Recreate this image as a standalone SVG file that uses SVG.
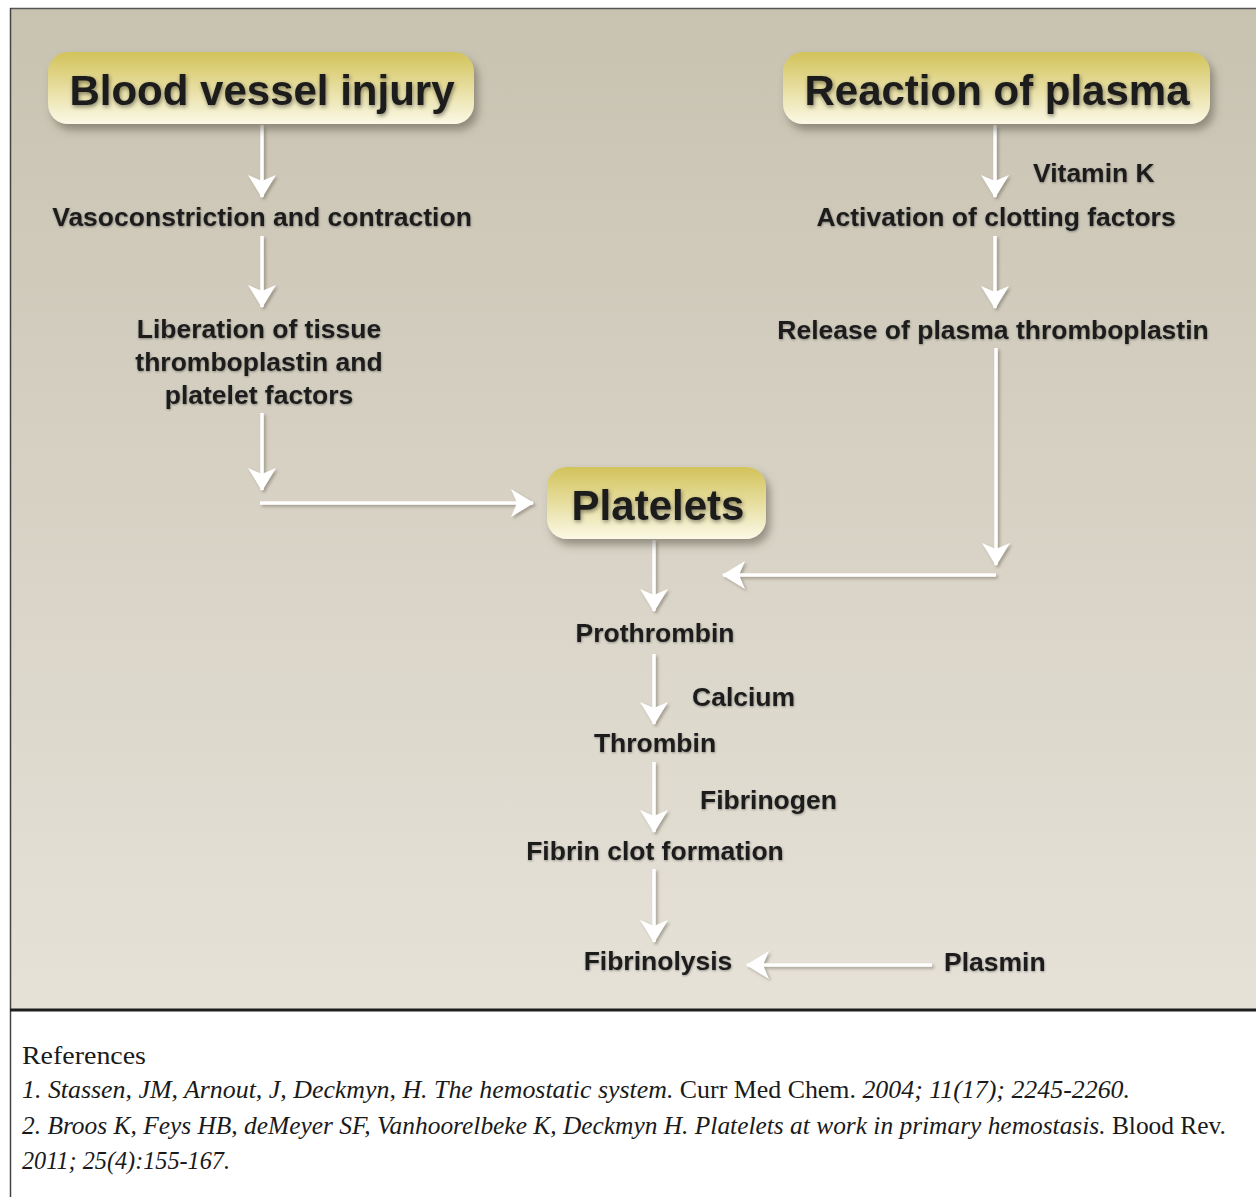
<svg xmlns="http://www.w3.org/2000/svg" width="1256" height="1197" viewBox="0 0 1256 1197">
<defs>
<linearGradient id="bg" x1="0" y1="0" x2="0" y2="1">
<stop offset="0" stop-color="#c8c2b1"/>
<stop offset="1" stop-color="#e6e2d8"/>
</linearGradient>
<linearGradient id="box" x1="0" y1="0" x2="0" y2="1">
<stop offset="0" stop-color="#d2c35a"/>
<stop offset="0.55" stop-color="#e9e0a6"/>
<stop offset="1" stop-color="#fbf9e6"/>
</linearGradient>
<filter id="bshadow" x="-10%" y="-20%" width="125%" height="160%">
<feDropShadow dx="4" dy="6" stdDeviation="4" flood-color="#5a5448" flood-opacity="0.55"/>
</filter>
<filter id="tshadow" x="-5%" y="-20%" width="110%" height="150%">
<feDropShadow dx="1" dy="2" stdDeviation="2" flood-color="#000" flood-opacity="0.45"/>
</filter>
<filter id="lshadow" x="-5%" y="-20%" width="110%" height="150%">
<feDropShadow dx="0.5" dy="1" stdDeviation="1" flood-color="#000" flood-opacity="0.35"/>
</filter>
<filter id="ashadow" x="-20%" y="-20%" width="140%" height="140%">
<feDropShadow dx="2" dy="2" stdDeviation="1.5" flood-color="#6b6455" flood-opacity="0.5"/>
</filter>
<marker id="ah" markerUnits="userSpaceOnUse" markerWidth="30" markerHeight="30" viewBox="-24 -15 26 30" refX="0" refY="0" orient="auto">
<path d="M-22,-14 L1,0 L-22,14 L-16,0 Z" fill="#ffffff"/>
</marker>
<style>
.lbl{font-family:"Liberation Sans",Arial,sans-serif;font-weight:bold;font-size:26.5px;fill:#1e1e1e}
.big{font-family:"Liberation Sans",Arial,sans-serif;font-weight:bold;font-size:42px;fill:#1a1a1a}
.c{text-anchor:middle}
.arr{stroke:#ffffff;stroke-width:3.5;fill:none;marker-end:url(#ah)}
.ref{font-family:"Liberation Serif","Times New Roman",serif;font-size:25px;fill:#1a1a1a}
.it{font-style:italic}
</style>
</defs>

<rect x="10" y="8" width="1246" height="1002" fill="url(#bg)"/>
<rect x="10" y="1010" width="1246" height="187" fill="#ffffff"/>
<line x1="10" y1="8.5" x2="1256" y2="8.5" stroke="#555" stroke-width="1.5"/>
<line x1="10.5" y1="8" x2="10.5" y2="1197" stroke="#444" stroke-width="1.5"/>
<line x1="10" y1="1010" x2="1256" y2="1010" stroke="#1e1e1e" stroke-width="3"/>

<g id="connectors" filter="url(#ashadow)">
<line class="arr" x1="262" y1="125" x2="262" y2="197"/>
<line class="arr" x1="262" y1="236" x2="262" y2="307"/>
<line class="arr" x1="262" y1="413" x2="262" y2="490"/>
<line class="arr" x1="260" y1="503" x2="533" y2="503"/>
<line class="arr" x1="995" y1="125" x2="995" y2="197"/>
<line class="arr" x1="995" y1="236" x2="995" y2="308"/>
<line class="arr" x1="996" y1="348" x2="996" y2="565"/>
<line class="arr" x1="996" y1="575" x2="723" y2="575"/>
<line class="arr" x1="654" y1="540" x2="654" y2="611"/>
<line class="arr" x1="654" y1="654" x2="654" y2="724"/>
<line class="arr" x1="654" y1="762" x2="654" y2="832"/>
<line class="arr" x1="654" y1="869" x2="654" y2="942"/>
<line class="arr" x1="932" y1="965" x2="747" y2="965"/>
</g>

<g id="node-blood-vessel-injury">
<rect x="48" y="52" width="426" height="72" rx="20" fill="url(#box)" filter="url(#bshadow)"/>
<text class="big c" x="262" y="105" filter="url(#tshadow)">Blood vessel injury</text>
</g>
<g id="node-reaction-of-plasma">
<rect x="783" y="52" width="427" height="72" rx="20" fill="url(#box)" filter="url(#bshadow)"/>
<text class="big c" x="997" y="105" filter="url(#tshadow)">Reaction of plasma</text>
</g>
<g id="node-platelets">
<rect x="547" y="467" width="219" height="72" rx="20" fill="url(#box)" filter="url(#bshadow)"/>
<text class="big c" x="658" y="520" filter="url(#tshadow)">Platelets</text>
</g>

<g filter="url(#lshadow)">
<g id="node-vasoconstriction"><text class="lbl c" x="262" y="226">Vasoconstriction and contraction</text></g>
<g id="node-liberation">
<text class="lbl c" x="259" y="338">Liberation of tissue</text>
<text class="lbl c" x="259" y="371">thromboplastin and</text>
<text class="lbl c" x="259" y="404">platelet factors</text>
</g>
<g id="label-vitamin-k"><text class="lbl" x="1033" y="182">Vitamin K</text></g>
<g id="node-activation"><text class="lbl c" x="996" y="226">Activation of clotting factors</text></g>
<g id="node-release"><text class="lbl c" x="993" y="339">Release of plasma thromboplastin</text></g>
<g id="node-prothrombin"><text class="lbl c" x="655" y="642">Prothrombin</text></g>
<g id="label-calcium"><text class="lbl" x="692" y="706">Calcium</text></g>
<g id="node-thrombin"><text class="lbl c" x="655" y="752">Thrombin</text></g>
<g id="label-fibrinogen"><text class="lbl" x="700" y="809">Fibrinogen</text></g>
<g id="node-fibrin-clot"><text class="lbl c" x="655" y="860">Fibrin clot formation</text></g>
<g id="node-fibrinolysis"><text class="lbl c" x="658" y="970">Fibrinolysis</text></g>
<g id="node-plasmin"><text class="lbl" x="944" y="971">Plasmin</text></g>
</g>

<g id="references">
<text class="ref" x="22" y="1064" textLength="124" lengthAdjust="spacingAndGlyphs">References</text>
<text class="ref" x="22" y="1098" textLength="1108" lengthAdjust="spacingAndGlyphs"><tspan class="it">1. Stassen, JM, Arnout, J, Deckmyn, H. The hemostatic system.</tspan> Curr Med Chem. <tspan class="it">2004; 11(17); 2245-2260.</tspan></text>
<text class="ref" x="22" y="1134" textLength="1204" lengthAdjust="spacingAndGlyphs"><tspan class="it">2. Broos K, Feys HB, deMeyer SF, Vanhoorelbeke K, Deckmyn H. Platelets at work in primary hemostasis.</tspan> Blood Rev.</text>
<text class="ref it" x="22" y="1169" textLength="208" lengthAdjust="spacingAndGlyphs">2011; 25(4):155-167.</text>
</g>
</svg>
